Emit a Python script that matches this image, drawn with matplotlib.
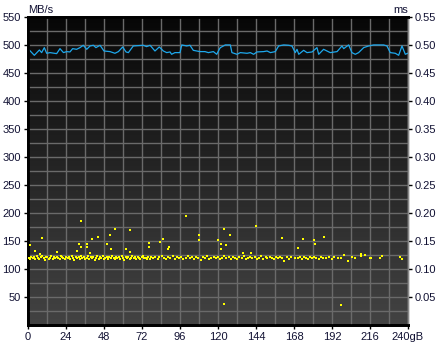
import numpy as np
import matplotlib
matplotlib.use('Agg')
import matplotlib.pyplot as plt
from matplotlib.colors import LinearSegmentedColormap

# transfer rate (MB/s)
rate_gb = [0.8, 4.0, 7.2, 8.6, 10.3, 11.8, 13.9, 18.1, 20.2, 22.4,
           24.4, 26.5, 28.2, 30.7, 32.8, 34.9, 37.1, 39.2, 41.3, 42.9,
           45.5, 48.0, 51.8, 54.9, 57.1, 59.8, 61.9, 63.4, 66.5, 72.8,
           74.9, 77.1, 80.2, 82.9, 85.5, 87.6, 89.7, 90.7, 92.8, 96.0,
           97.1, 100.2, 102.3, 104.4, 108.6, 111.8, 113.9, 117.1, 119.2, 120.8,
           121.5, 124.6, 127.8, 128.8, 132.0, 134.1, 138.3, 140.4, 142.5, 144.6,
           148.8, 151.0, 153.1, 156.2, 158.3, 161.5, 164.6, 166.7, 168.8, 169.9,
           171.0, 174.1, 176.2, 179.4, 182.5, 183.6, 186.7, 188.8, 190.9, 195.2,
           198.3, 199.4, 202.5, 204.6, 206.7, 208.8, 212.0, 215.2, 218.3, 224.6,
           226.7, 228.8, 232.0, 234.1, 236.2, 238.3, 239.8]
rate_mbs = [491.1, 481.6, 491.1, 486.4, 495.3, 485.2, 486.4, 484.6, 493.5, 486.4,
            488.2, 487.6, 493.5, 492.3, 495.3, 499.5, 492.3, 498.3, 499.5, 495.3,
            499.5, 489.3, 488.2, 485.2, 488.2, 496.5, 487.6, 486.4, 498.3, 499.5,
            497.1, 499.5, 489.3, 496.5, 489.3, 486.4, 487.6, 483.4, 486.4, 486.4,
            500.1, 498.3, 499.5, 490.5, 488.2, 488.2, 486.4, 488.2, 483.4, 492.3,
            495.3, 500.1, 500.1, 486.4, 483.4, 486.4, 485.2, 486.4, 483.4, 487.6,
            488.2, 489.3, 486.4, 488.2, 498.3, 500.1, 499.5, 498.3, 486.4, 492.3,
            483.4, 490.5, 486.4, 487.6, 495.3, 483.4, 492.3, 489.3, 486.4, 488.2,
            498.3, 493.5, 500.1, 486.4, 483.4, 486.4, 495.3, 498.3, 500.1, 500.1,
            498.3, 486.4, 485.2, 481.6, 498.3, 483.4, 485.2]

# access time samples (ms x 1000), main band
band_gb = [0.4, 1.3, 2.0, 3.0, 3.7, 4.7, 5.5, 6.3, 7.2, 8.0,
           8.9, 9.8, 10.5, 11.5, 12.2, 13.2, 14.0, 14.8, 15.7, 16.6,
           17.3, 18.3, 19.1, 19.9, 20.8, 21.7, 22.4, 23.4, 24.2, 25.0,
           25.9, 26.8, 27.5, 28.5, 29.3, 30.1, 31.0, 31.9, 32.6, 33.6,
           34.4, 35.2, 36.1, 37.0, 37.7, 38.7, 39.5, 40.3, 41.2, 42.1,
           42.8, 43.8, 44.6, 45.4, 46.3, 47.2, 47.9, 48.9, 49.7, 50.5,
           51.4, 52.3, 53.0, 54.0, 54.8, 55.6, 56.5, 57.4, 58.1, 59.1,
           59.9, 60.7, 61.6, 62.5, 63.2, 64.2, 65.0, 65.8, 66.7, 67.6,
           68.3, 69.3, 70.1, 70.9, 71.8, 72.7, 73.4, 74.4, 75.2, 76.0,
           76.9, 77.8,
           79.0, 80.3, 81.9, 83.0, 84.6, 85.7, 87.2, 88.5, 89.8, 91.4,
           92.6, 94.0, 95.5, 96.7, 98.1, 99.6, 100.8, 102.3, 103.5, 104.9,
           106.4, 107.6, 109.0, 110.5, 111.7, 113.2, 114.4, 115.8, 117.3, 118.5,
           119.9, 121.4, 122.6, 124.1, 125.3, 126.7, 128.2, 129.4, 130.8, 132.3,
           133.5, 135.0, 136.4, 137.6, 139.1, 140.3, 141.7, 143.2, 144.4, 145.9,
           147.1, 148.5, 150.0, 151.2, 152.7, 153.9, 155.3, 156.8, 158.0, 159.4,
           160.2, 161.9, 163.4, 164.6, 166.1, 168.9, 170.3, 171.8, 172.9, 174.2,
           175.6, 177.0, 178.1, 179.5, 180.6, 182.2, 183.7, 185.1, 186.6, 188.4,
           190.3, 191.9, 193.4, 195.6, 197.9, 199.8, 202.1, 204.5, 206.3, 210.1,
           210.1, 212.7, 215.8, 216.8, 222.1, 223.8, 235.1, 236.4]
band_ms = [120, 118, 122, 119, 121, 117, 123, 120, 118, 121,
           124, 119, 116, 121, 122, 118, 120, 123, 117, 121,
           119, 122, 120, 118, 124, 121, 119, 117, 122, 120,
           121, 118, 123, 119, 116, 121, 120, 122, 118, 124,
           119, 121, 117, 120, 123, 118, 121, 119, 122, 116,
           120, 124, 118, 121, 119, 123, 117, 120, 122, 118,
           121, 119, 124, 120, 117, 122, 119, 121, 118, 123,
           120, 116, 121, 119, 122, 118, 120, 124, 119, 121,
           117, 122, 120, 118, 121, 123, 119, 120, 117, 122,
           118, 121,
           120, 122, 118, 121, 123, 119, 117, 121, 120, 124,
           118, 121, 119, 122, 117, 120, 123, 119, 121, 118,
           122, 120, 116, 121, 119, 123, 118, 120, 122, 119,
           121, 117, 120, 124, 119, 121, 118, 122, 120, 117,
           121, 119, 123, 118, 120, 122, 119, 121, 117, 120,
           123, 118, 121, 119, 122, 120, 117, 121, 119, 122,
           120, 115, 121, 118, 122, 120, 119, 121, 117, 122,
           120, 118, 121, 119, 122, 120, 117, 121, 119, 120,
           122, 118, 121, 119, 120, 125, 115, 121, 120, 127,
           124, 125, 120, 120, 120, 123, 122, 117]

# access time outliers (ms x 1000)
spike_gb = [1.3, 9.0, 4.4, 7.6, 18.5, 33.5, 32.2, 37.3, 37.1, 33.5,
            31.2, 40.6, 44.4, 39.2, 49.9, 52.0, 54.9, 52.4, 64.6, 61.9,
            76.4, 76.6, 64.6, 100.0, 85.5, 83.6, 89.3, 88.6, 108.2, 107.8,
            123.8, 127.6, 120.2, 122.1, 125.3, 122.1, 144.2, 136.0, 141.1, 160.6,
            173.9, 180.8, 187.1, 181.5, 170.7, 124.0, 197.9]
spike_ms = [142, 155, 133, 127, 131, 185, 145, 145, 139, 139,
            133, 153, 157, 128, 145, 161, 171, 135, 169, 136,
            147, 139, 131, 194, 154, 149, 139, 136, 161, 151,
            172, 160, 152, 144, 142, 135, 177, 129, 129, 156,
            154, 151, 158, 145, 138, 38, 36]

x_labels = ['0', '24', '48', '72', '96', '120', '144', '168', '192', '216', '240gB']

W, H = 437, 347
fig = plt.figure(figsize=(W / 100, H / 100), dpi=100)
fig.patch.set_facecolor('white')
ax = fig.add_axes([28 / W, (H - 325) / H, 380 / W, 308 / H])

# dark vertical gradient behind the plot
cmap = LinearSegmentedColormap.from_list('bg', ['#070707', '#434343'])
grad = np.linspace(0, 1, 256).reshape(-1, 1)
ax.imshow(grad, extent=[0, 240, 0, 550], aspect='auto', cmap=cmap,
          origin='upper', zorder=0)

ax.set_xlim(0, 240)
ax.set_ylim(0, 550)
ax.set_xticks(np.arange(0, 241, 24))
ax.set_xticklabels(x_labels)
ax.set_xticks(np.arange(0, 241, 12), minor=True)
ax.set_yticks(np.arange(50, 551, 50))
ax.set_yticks(np.arange(25, 551, 25), minor=True)
ax.grid(True, which='both', color='#6a6a6a', linewidth=1, zorder=1)
ax.set_axisbelow(False)

ax.plot(rate_gb, rate_mbs, color='#1ea8ec', linewidth=0.9, zorder=3)

ax2 = ax.twinx()
ax2.set_ylim(0, 0.55)
ax2.set_yticks(np.arange(0.05, 0.551, 0.05))
ax2.set_yticklabels(['%.2f' % v for v in np.arange(0.05, 0.551, 0.05)])
ax2.scatter(band_gb, np.array(band_ms) / 1000, s=3, marker='s',
            color='#ffff00', linewidths=0, zorder=4)
ax2.scatter(spike_gb, np.array(spike_ms) / 1000, s=2.2, marker='s',
            color='#ffff00', linewidths=0, zorder=4)

for a in (ax, ax2):
    a.tick_params(which='major', length=3, width=1, color='black',
                  labelsize=8, labelcolor='#111133', pad=2)
    a.tick_params(which='minor', length=0)
    for side in ('left', 'top', 'bottom'):
        a.spines[side].set_color('black')
        a.spines[side].set_linewidth(2)
    a.spines['right'].set_color('#8a8a8a')
    a.spines['right'].set_linewidth(1)
    for lbl in a.get_xticklabels() + a.get_yticklabels():
        lbl.set_fontfamily('Liberation Sans')

ax.text(0.0, 1.005, 'MB/s', transform=ax.transAxes, ha='left', va='bottom',
        fontsize=8, color='#111133', family='Liberation Sans')
ax.text(1.0, 1.005, 'ms', transform=ax.transAxes, ha='right', va='bottom',
        fontsize=8, color='#111133', family='Liberation Sans')

fig.savefig('out.png', dpi=100, facecolor='white')
